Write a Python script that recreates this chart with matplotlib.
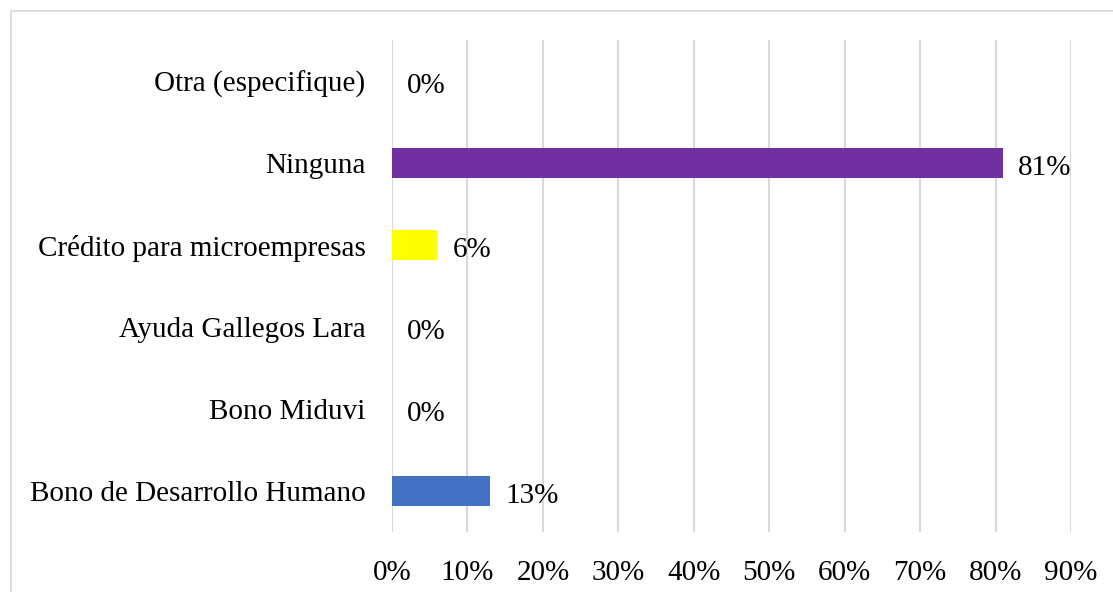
import matplotlib.pyplot as plt
from matplotlib.patches import Rectangle

categorias = ["Bono de Desarrollo Humano", "Bono Miduvi", "Ayuda Gallegos Lara",
              "Crédito para microempresas", "Ninguna", "Otra (especifique)"]
valores = [13, 0, 0, 6, 81, 0]
colores = ["#4472C4", "#4472C4", "#4472C4", "#FFFF00", "#7030A0", "#7030A0"]
ticks = [0, 10, 20, 30, 40, 50, 60, 70, 80, 90]

plt.rcParams['font.family'] = ['Liberation Serif', 'DejaVu Serif']

fig = plt.figure(figsize=(11.13, 5.92), dpi=100)
ax = fig.add_axes([392/1113, 1-532/592, (1071-392)/1113, 492/592])

y = range(len(categorias))
ax.barh(y, valores, height=0.37, color=colores, zorder=3)
for i, v in enumerate(valores):
    ax.text(v + 2.0, i - 0.06, f"{v}%", va='center', ha='left', fontsize=21, color='black')

ax.set_xlim(0, 90)
ax.set_ylim(-0.5, len(categorias) - 0.5)
ax.set_xticks(ticks)
ax.set_xticklabels([f"{t}%" for t in ticks], fontsize=21)
ax.set_yticks(list(y))
ax.set_yticklabels(categorias, fontsize=21)
ax.tick_params(axis='both', length=0)
ax.tick_params(axis='x', pad=20)
ax.tick_params(axis='y', pad=19)
ax.grid(axis='x', color='#D9D9D9', linewidth=1.5, zorder=0)
for s in ax.spines.values():
    s.set_visible(False)

fig.patches.append(Rectangle((11/1113, -0.1), 1.2, 1.1 - 11/592, transform=fig.transFigure,
                             fill=False, edgecolor='#D9D9D9', linewidth=1.2))

fig.savefig("out.png", dpi=100)
